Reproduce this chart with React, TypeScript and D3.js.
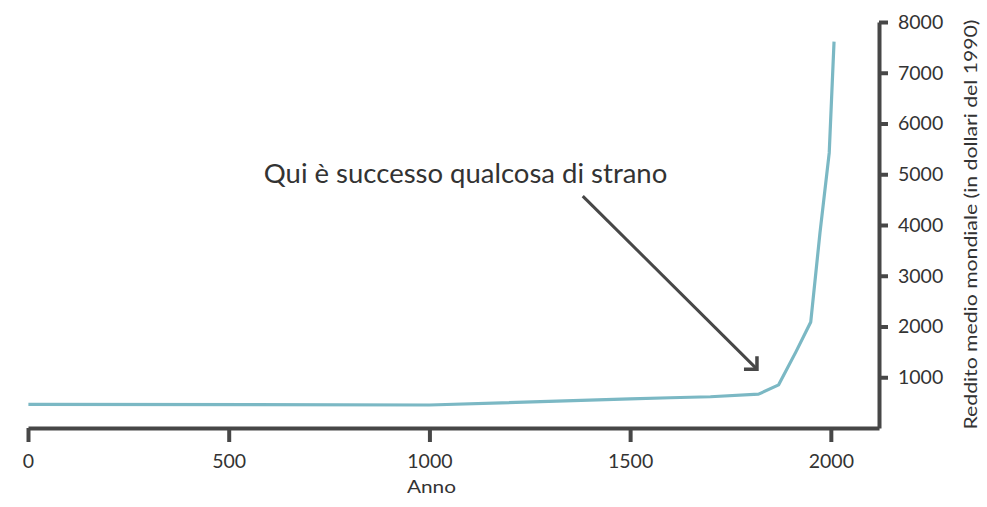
import React, { useRef, useEffect } from 'react';
import * as d3 from 'd3';

// Reddito medio mondiale per anno (dollari del 1990)
const years = [1, 1000, 1500, 1600, 1700, 1820, 1870, 1913, 1950, 1973, 1996, 2008];
const incomes = [467, 453, 575, 596, 616, 667, 850, 1500, 2090, 3850, 5420, 7614];

const xTicks = [0, 500, 1000, 1500, 2000];
const yTicks = [1000, 2000, 3000, 4000, 5000, 6000, 7000, 8000];

const xLabel = 'Anno';
const yLabel = 'Reddito medio mondiale (in dollari del 1990)';
const noteText = 'Qui è successo qualcosa di strano';

const W = 987;
const H = 507;
const FONT = 'Lato, sans-serif';
const AXIS = '#474747';
const TEXT = '#333333';

export default function App() {
  const svgRef = useRef<SVGSVGElement>(null);

  useEffect(() => {
    if (!svgRef.current) return;
    const svg = d3.select(svgRef.current);
    svg.selectAll('*').remove();

    const x = d3.scaleLinear().domain([0, 2120]).range([28, 879]);
    const y = d3.scaleLinear().domain([0, 8000]).range([428, 22]);

    const data = years.map((yr, i) => ({ yr, v: incomes[i] }));

    // line
    const line = d3.line<{ yr: number; v: number }>()
      .x(d => x(d.yr))
      .y(d => y(d.v));

    svg.append('path')
      .datum(data)
      .attr('d', line)
      .attr('fill', 'none')
      .attr('stroke', '#7bb8c4')
      .attr('stroke-width', 3.2)
      .attr('stroke-linejoin', 'round');

    // x axis
    const gx = svg.append('g')
      .attr('transform', `translate(0,${y(0)})`)
      .call(d3.axisBottom(x).tickValues(xTicks).tickSize(14).tickSizeOuter(0).tickPadding(12).tickFormat(d3.format('d')));
    gx.select('.domain').attr('stroke', AXIS).attr('stroke-width', 4);
    gx.selectAll('.tick line').attr('stroke', AXIS).attr('stroke-width', 4);
    gx.selectAll('.tick text')
      .attr('fill', TEXT)
      .style('font-family', FONT)
      .style('font-size', '19.5px');

    // y axis
    const gy = svg.append('g')
      .attr('transform', `translate(${x(2120)},0)`)
      .call(d3.axisRight(y).tickValues(yTicks).tickSize(9).tickSizeOuter(0).tickPadding(10).tickFormat(d3.format('d')));
    gy.select('.domain').attr('stroke', AXIS).attr('stroke-width', 4);
    gy.selectAll('.tick line').attr('stroke', AXIS).attr('stroke-width', 4);
    gy.selectAll('.tick text')
      .attr('fill', TEXT)
      .style('font-family', FONT)
      .style('font-size', '19.5px');

    // axis titles
    svg.append('text')
      .attr('x', x(1005))
      .attr('y', 493)
      .attr('text-anchor', 'middle')
      .attr('fill', TEXT)
      .attr('textLength', 49)
      .attr('lengthAdjust', 'spacingAndGlyphs')
      .style('font-family', FONT)
      .style('font-size', '17.5px')
      .text(xLabel);

    svg.append('text')
      .attr('transform', `translate(977,${y(4010)}) rotate(-90)`)
      .attr('text-anchor', 'middle')
      .attr('fill', TEXT)
      .attr('textLength', 410)
      .attr('lengthAdjust', 'spacingAndGlyphs')
      .style('font-family', FONT)
      .style('font-size', '18px')
      .text(yLabel);

    // annotation
    svg.append('text')
      .attr('x', x(1090))
      .attr('y', y(4830))
      .attr('text-anchor', 'middle')
      .attr('fill', TEXT)
      .style('font-family', FONT)
      .style('font-size', '27.5px')
      .text(noteText);

    const x1 = x(1382), y1 = y(4570);
    const x2 = x(1816), y2 = y(1160);
    svg.append('line')
      .attr('x1', x1).attr('y1', y1)
      .attr('x2', x2).attr('y2', y2)
      .attr('stroke', AXIS)
      .attr('stroke-width', 3);
    svg.append('path')
      .attr('d', `M${x2 - 13},${y2} H${x2} V${y2 - 13}`)
      .attr('fill', 'none')
      .attr('stroke', AXIS)
      .attr('stroke-width', 3.5);
  }, []);

  return (
    <svg ref={svgRef} width={W} height={H} style={{ display: 'block', position: 'absolute', left: 0, top: 0, background: '#fff' }} />
  );
}
